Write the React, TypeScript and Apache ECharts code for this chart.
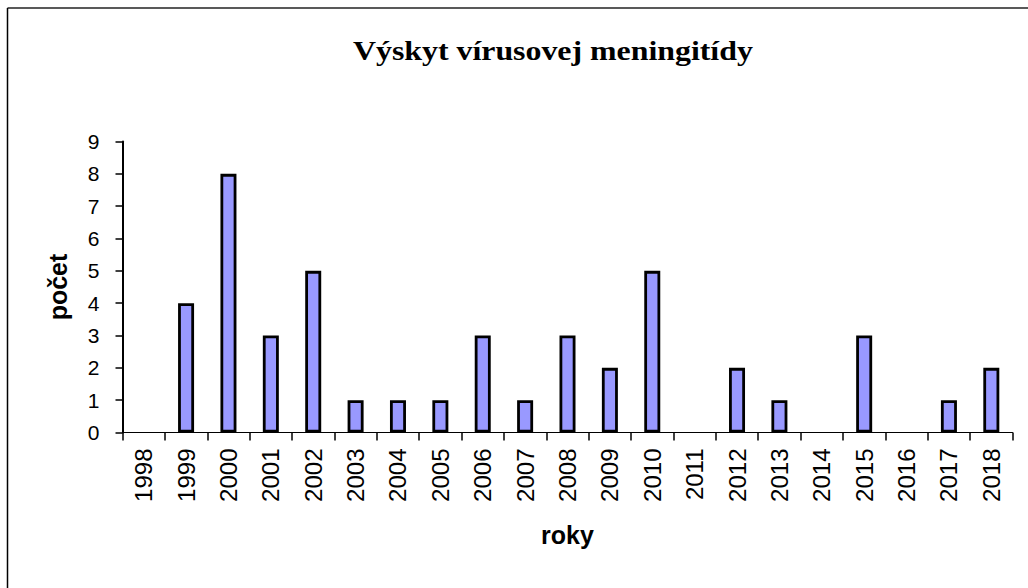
import React, { useEffect, useRef } from "react";
import * as echarts from "echarts";

const titleText = "Výskyt vírusovej meningitídy";
const years = ["1998","1999","2000","2001","2002","2003","2004","2005","2006","2007","2008","2009","2010","2011","2012","2013","2014","2015","2016","2017","2018"];
const counts = [0,4,8,3,5,1,1,1,3,1,3,2,5,0,2,1,0,3,0,1,2];
const yAxisName = "počet";
const xAxisName = "roky";

export default function App() {
  const ref = useRef<HTMLDivElement>(null);
  useEffect(() => {
    if (!ref.current) return;
    const chart = echarts.init(ref.current, null, { renderer: "svg" });
    const sans = "'Liberation Sans', Arial, sans-serif";
    chart.setOption({
      animation: false,
      backgroundColor: "#ffffff",
      grid: { left: 122.5, right: 15.5, top: 141.5, bottom: 155.5, containLabel: false },
      graphic: [
        { type: "line", shape: { x1: 7.5, y1: 8, x2: 1028, y2: 8 }, style: { stroke: "#222222", lineWidth: 1.5 } },
        { type: "line", shape: { x1: 7.5, y1: 8, x2: 7.5, y2: 588 }, style: { stroke: "#000000", lineWidth: 1.5 } },
        {
          type: "text",
          x: 353,
          y: 51,
          scaleX: 1.18,
          style: {
            text: titleText,
            font: "bold 27px 'Liberation Serif', 'Times New Roman', serif",
            fill: "#000000",
            textAlign: "left",
            textVerticalAlign: "middle",
          },
        },
      ],
      xAxis: {
        type: "category",
        data: years,
        name: xAxisName,
        nameLocation: "middle",
        nameGap: 90,
        nameTextStyle: { fontFamily: sans, fontWeight: "bold", fontSize: 25, color: "#000" },
        axisLine: { show: true, lineStyle: { color: "#000", width: 1.2 } },
        axisTick: { show: true, length: 8, lineStyle: { color: "#000", width: 1.5 } },
        axisLabel: { rotate: 90, margin: 16, fontFamily: sans, fontSize: 24, color: "#000" },
        splitLine: { show: false },
      },
      yAxis: {
        type: "value",
        min: 0,
        max: 9,
        interval: 1,
        name: yAxisName,
        nameLocation: "middle",
        nameGap: 52,
        nameTextStyle: { fontFamily: sans, fontWeight: "bold", fontSize: 25, color: "#000" },
        axisLine: { show: true, lineStyle: { color: "#000", width: 2 } },
        axisTick: { show: true, length: 7, lineStyle: { color: "#000", width: 1.5 } },
        axisLabel: { margin: 23, fontFamily: sans, fontSize: 21, color: "#000" },
        splitLine: { show: false },
      },
      series: [
        {
          type: "bar",
          data: counts.map((v) => (v === 0 ? "-" : v)),
          barWidth: 16,
          itemStyle: { color: "#9999FF", borderColor: "#000000", borderWidth: 2.8 },
        },
      ],
    });
    return () => chart.dispose();
  }, []);
  return (
    <div
      ref={ref}
      style={{ position: "fixed", left: 0, top: 0, width: 1028, height: 588, background: "#fff" }}
    />
  );
}
